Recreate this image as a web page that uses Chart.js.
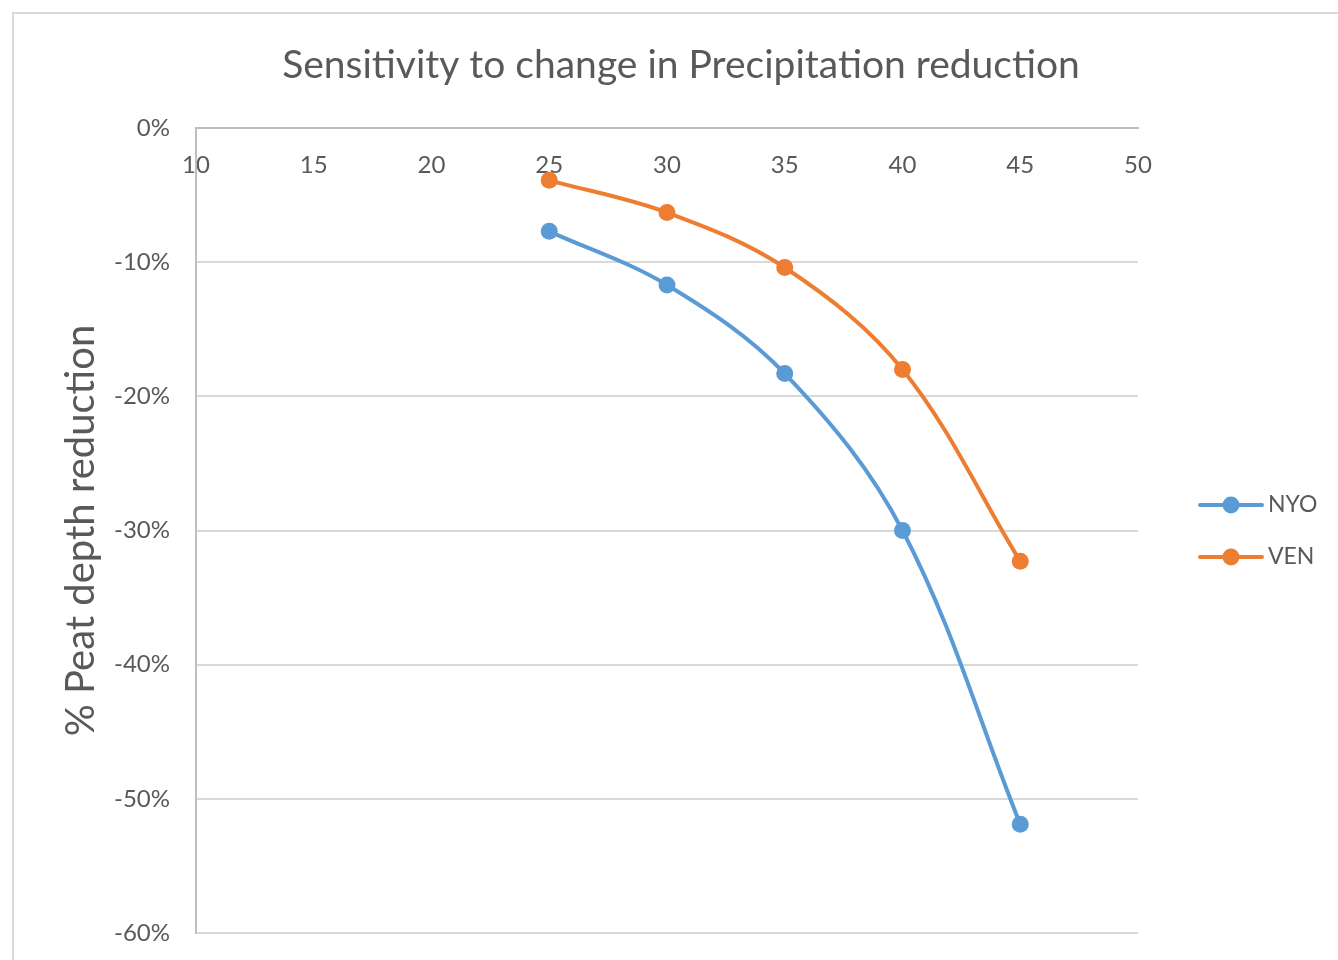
<!DOCTYPE html>
<html>
<head>
<meta charset="utf-8">
<script src="https://cdn.jsdelivr.net/npm/chart.js@4.4.1/dist/chart.umd.min.js"></script>
<style>
  html, body { margin: 0; padding: 0; background: #ffffff; }
  #wrap { width: 1338px; height: 960px; }
</style>
</head>
<body>
<div id="wrap"><canvas id="c" width="1338" height="960"></canvas></div>
<script>
// Precipitation reduction (%) on the x axis
const precipReduction = [25, 30, 35, 40, 45];
// Peat depth change (%) per site
const nyoValues = [-7.7, -11.7, -18.3, -30.0, -51.9];
const venValues = [-3.9, -6.3, -10.4, -18.0, -32.3];
const seriesNames = ['NYO', 'VEN'];
const seriesColors = ['#5b9bd5', '#ed7d31'];
const titleText = 'Sensitivity to change in Precipitation reduction';
const yAxisTitle = '% Peat depth reduction';

const textColor = '#595959';
const fontFamily = 'Lato, "Open Sans", "Liberation Sans", sans-serif';

function toPoints(xs, ys) {
  return xs.map((x, i) => ({ x: x, y: ys[i] }));
}

// Outer frame, chart title and right-hand legend
const decorations = {
  id: 'decorations',
  beforeDraw(chart) {
    const ctx = chart.ctx;
    ctx.save();
    ctx.fillStyle = '#ffffff';
    ctx.fillRect(0, 0, chart.width, chart.height);
    ctx.strokeStyle = '#d9d9d9';
    ctx.lineWidth = 2;
    ctx.strokeRect(13, 13, chart.width + 40, chart.height + 40);
    ctx.restore();
  },
  afterDraw(chart) {
    const ctx = chart.ctx;
    ctx.save();
    // title
    ctx.fillStyle = textColor;
    ctx.font = '400 39px ' + fontFamily;
    ctx.textAlign = 'center';
    ctx.textBaseline = 'middle';
    ctx.fillText(titleText, 681, 65);
    // legend
    const lx = 1200, ly = 505, gap = 52;
    chart.data.datasets.forEach((ds, i) => {
      const y = ly + i * gap;
      ctx.strokeStyle = ds.borderColor;
      ctx.lineWidth = 4;
      ctx.lineCap = 'round';
      ctx.beginPath();
      ctx.moveTo(lx, y);
      ctx.lineTo(lx + 62, y);
      ctx.stroke();
      ctx.fillStyle = ds.backgroundColor;
      ctx.beginPath();
      ctx.arc(lx + 31, y, 8.5, 0, Math.PI * 2);
      ctx.fill();
      ctx.fillStyle = textColor;
      ctx.font = '23px ' + fontFamily;
      ctx.textAlign = 'left';
      ctx.textBaseline = 'middle';
      ctx.fillText(ds.label, lx + 68, y);
    });
    ctx.restore();
  }
};

new Chart(document.getElementById('c'), {
  type: 'line',
  data: {
    datasets: [
      {
        label: seriesNames[0],
        data: toPoints(precipReduction, nyoValues),
        borderColor: seriesColors[0],
        backgroundColor: seriesColors[0],
        borderWidth: 4,
        pointRadius: 8.5,
        pointHoverRadius: 8.5,
        pointBorderWidth: 0,
        tension: 0.35,
        clip: false
      },
      {
        label: seriesNames[1],
        data: toPoints(precipReduction, venValues),
        borderColor: seriesColors[1],
        backgroundColor: seriesColors[1],
        borderWidth: 4,
        pointRadius: 8.5,
        pointHoverRadius: 8.5,
        pointBorderWidth: 0,
        tension: 0.35,
        clip: false
      }
    ]
  },
  options: {
    responsive: false,
    animation: false,
    events: [],
    layout: { padding: { left: 0, top: 128, right: 200, bottom: 27 } },
    plugins: {
      legend: { display: false },
      title: { display: false },
      tooltip: { enabled: false }
    },
    scales: {
      x: {
        type: 'linear',
        position: { y: 0 },
        min: 10,
        max: 50,
        ticks: {
          stepSize: 5,
          color: textColor,
          font: { family: fontFamily, size: 24 },
          padding: 23,
          maxRotation: 0
        },
        grid: { display: false, drawTicks: false },
        border: { display: true, color: '#bfbfbf', width: 2 },
        // labels sit inside the plot below the 0% line, so no extra room is reserved
        afterFit(scale) { scale.height = 0; }
      },
      y: {
        type: 'linear',
        position: 'left',
        min: -60,
        max: 0,
        ticks: {
          stepSize: 10,
          color: textColor,
          font: { family: fontFamily, size: 24 },
          padding: 26,
          callback: (v) => v + '%'
        },
        grid: { color: '#d9d9d9', lineWidth: 2, drawTicks: false },
        border: { display: true, color: '#bfbfbf', width: 2 },
        title: {
          display: true,
          text: yAxisTitle,
          color: textColor,
          font: { family: fontFamily, size: 40 },
          padding: { top: 57, bottom: 0 }
        },
        afterFit(scale) {
          scale.width = 196;
          // the layout padding already leaves room for the end labels
          scale.paddingTop = 0;
          scale.paddingBottom = 0;
        }
      }
    }
  },
  plugins: [decorations]
});
</script>
</body>
</html>
